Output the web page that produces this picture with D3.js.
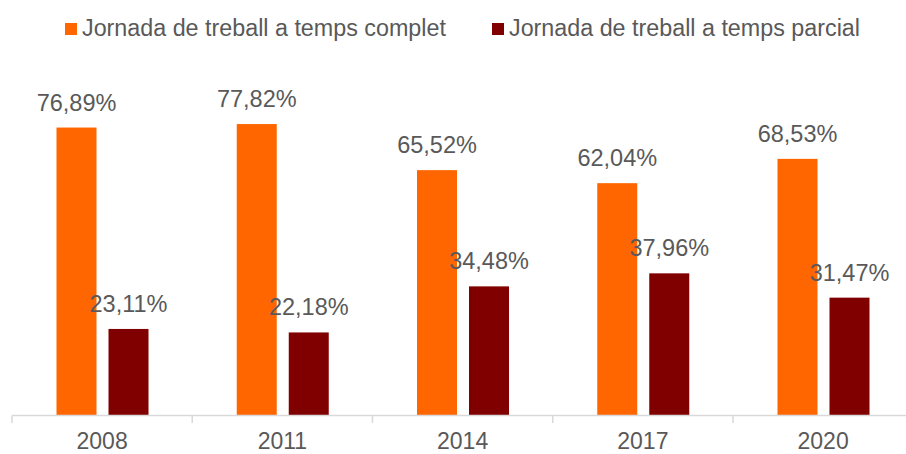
<!DOCTYPE html>
<html>
<head>
<meta charset="utf-8">
<script src="https://cdn.jsdelivr.net/npm/d3@7"></script>
<style>
  body { margin: 0; background: #fff; }
  svg { display: block; font-family: Arial, "Liberation Sans", sans-serif; }
  text { fill: #595959; }
</style>
</head>
<body>
<svg width="906" height="454"></svg>
<script>
  const years = ['2008', '2011', '2014', '2017', '2020'];
  const series = ['Jornada de treball a temps complet', 'Jornada de treball a temps parcial'];
  const complet = [76.89, 77.82, 65.52, 62.04, 68.53];
  const parcial = [23.11, 22.18, 34.48, 37.96, 31.47];
  const colors = ['#ff6600', '#800000'];

  const svg = d3.select('svg');
  const baseY = 415.5;

  const x = d3.scaleBand()
    .domain(years)
    .range([12, 12 + 5 * 180.25]);

  const xInner = d3.scaleBand()
    .domain(series)
    .range([44.5, 136.5])
    .paddingInner(0.2308);

  const y = d3.scaleLinear()
    .domain([0, 100])
    .range([baseY, 41]);

  const fmt = v => d3.format('.2f')(v).replace('.', ',') + '%';

  const rows = years.map((yr, i) => ({ year: yr, values: [complet[i], parcial[i]] }));

  const groups = svg.selectAll('g.year').data(rows)
    .enter().append('g')
      .attr('class', 'year')
      .attr('transform', d => `translate(${x(d.year)},0)`);

  const cells = groups.selectAll('g.cell')
    .data(d => d.values.map((v, j) => ({ v, s: series[j], j })))
    .enter().append('g')
      .attr('class', 'cell');

  cells.append('rect')
    .attr('x', d => xInner(d.s))
    .attr('width', xInner.bandwidth())
    .attr('y', d => y(d.v))
    .attr('height', d => baseY - y(d.v))
    .attr('fill', d => colors[d.j]);

  cells.append('text')
    .attr('x', d => xInner(d.s) + xInner.bandwidth() / 2)
    .attr('y', d => y(d.v) - 17)
    .attr('text-anchor', 'middle')
    .style('font-size', '23.5px')
    .text(d => fmt(d.v));

  // axis
  const axisG = svg.append('g');
  axisG.append('line')
    .attr('x1', 12).attr('x2', 906)
    .attr('y1', baseY).attr('y2', baseY)
    .attr('stroke', '#d9d9d9').attr('stroke-width', 1.5);

  axisG.selectAll('line.tick').data(years)
    .enter().append('line')
      .attr('class', 'tick')
      .attr('x1', d => x(d)).attr('x2', d => x(d))
      .attr('y1', baseY).attr('y2', 423)
      .attr('stroke', '#d9d9d9').attr('stroke-width', 1.5);

  axisG.selectAll('text').data(years)
    .enter().append('text')
      .attr('x', d => x(d) + x.bandwidth() / 2)
      .attr('y', 448.5)
      .attr('text-anchor', 'middle')
      .style('font-size', '23px')
      .text(d => d);

  // legend
  const legendX = [65, 492];
  const legend = svg.selectAll('g.legend').data(series)
    .enter().append('g')
      .attr('class', 'legend')
      .attr('transform', (d, i) => `translate(${legendX[i]},0)`);

  legend.append('rect')
    .attr('x', 0).attr('y', 23)
    .attr('width', 12).attr('height', 12)
    .attr('fill', (d, i) => colors[i]);

  legend.append('text')
    .attr('x', 17)
    .attr('y', 36)
    .style('font-size', '23.3px')
    .text(d => d);
</script>
</body>
</html>
